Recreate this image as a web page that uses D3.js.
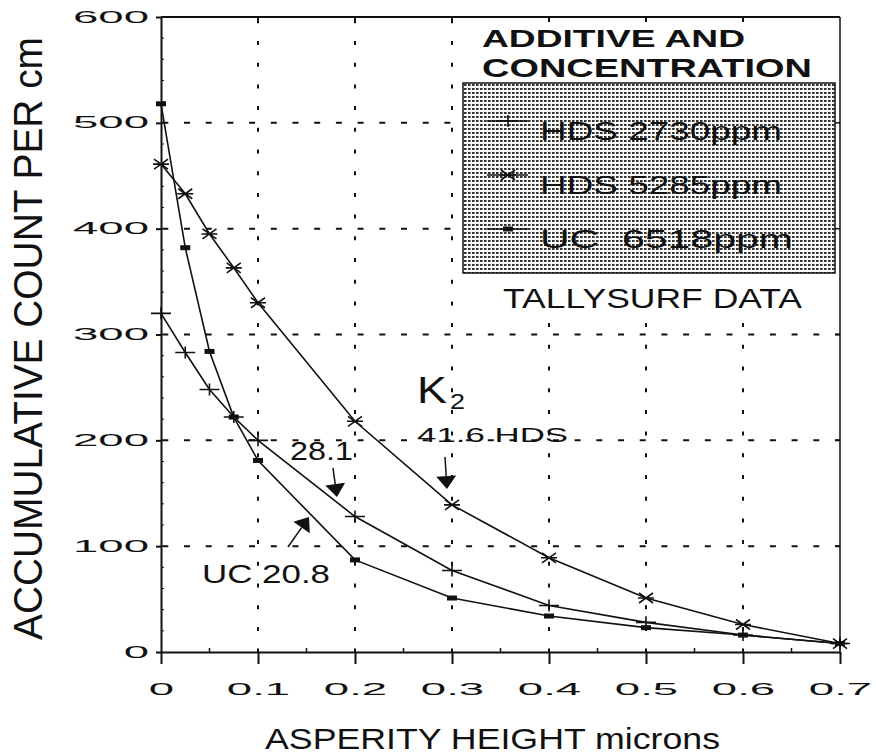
<!DOCTYPE html>
<html lang="en">
<head>
<meta charset="UTF-8">
<title>Accumulative count vs asperity height</title>
<script src="https://d3js.org/d3.v7.min.js"></script>
<style>
  body { margin: 0; background: #fff; }
  text { font-family: Arial, "Liberation Sans", sans-serif; fill: #111; }
</style>
</head>
<body>
<svg width="876" height="756"></svg>
<script>
    // data
    const heights = [0, 0.025, 0.05, 0.075, 0.1, 0.2, 0.3, 0.4, 0.5, 0.6, 0.7];
    const hds2730 = [320, 283, 248, 222, 200, 128, 77, 44, 28, 16, 8];
    const hds5285 = [461, 433, 395, 363, 330, 218, 139, 89, 51, 26, 8];
    const uc6518 = [518, 382, 284, 222, 181, 87, 51, 34, 23, 16, 8];
    const seriesNames = ["HDS 2730ppm", "HDS 5285ppm", "UC  6518ppm"];
    const seriesMarkers = ["plus", "bowtie", "square"];

    const xTicks = [0, 0.1, 0.2, 0.3, 0.4, 0.5, 0.6, 0.7];
    const xTickLabels = ["0", "0.1", "0.2", "0.3", "0.4", "0.5", "0.6", "0.7"];
    const yTicks = [0, 100, 200, 300, 400, 500, 600];
    const yTickLabels = ["0", "100", "200", "300", "400", "500", "600"];

    const svg = d3.select("svg");
    const pLeft = 161, pRight = 840, pTop = 17, pBottom = 652;

    const x = d3.scaleLinear().domain([0, 0.7]).range([pLeft, pRight]);
    const y = d3.scaleLinear().domain([0, 600]).range([pBottom, pTop]);

    // the plotter's tick digits are very wide: stretch them sideways
    const tickStretch = 2.85;

    function drawMarker(g, type, cx, cy) {
        if (type === "square") {
            g.append("rect").attr("x", cx - 5).attr("y", cy - 2.5)
                .attr("width", 10).attr("height", 5).attr("fill", "#111");
            return;
        }
        let d;
        if (type === "plus") {
            d = `M${cx - 10},${cy}H${cx + 10}M${cx},${cy - 6}V${cy + 6}`;
        } else {
            d = `M${cx - 8},${cy}H${cx + 8}M${cx - 7},${cy - 5}L${cx + 7},${cy + 5}M${cx - 7},${cy + 5}L${cx + 7},${cy - 5}`;
        }
        g.append("path").attr("d", d).attr("stroke", "#111")
            .attr("stroke-width", 1.6).attr("fill", "none");
    }

    // dotted shading for the legend box
    const defs = svg.append("defs");
    const pat = defs.append("pattern").attr("id", "dots")
        .attr("width", 4).attr("height", 4).attr("patternUnits", "userSpaceOnUse");
    pat.append("rect").attr("width", 4).attr("height", 4).attr("fill", "#fff");
    pat.append("rect").attr("width", 2.6).attr("height", 2).attr("fill", "#333");

    // grid
    svg.append("g").selectAll("line")
        .data(xTicks.slice(1, -1)).enter().append("line")
        .attr("x1", d => x(d)).attr("x2", d => x(d))
        .attr("y1", pTop).attr("y2", pBottom)
        .attr("stroke", "#111").attr("stroke-width", 2)
        .attr("stroke-dasharray", "4,17.7").attr("stroke-dashoffset", -24);
    svg.append("g").selectAll("line")
        .data(yTicks.slice(1, -1)).enter().append("line")
        .attr("x1", pLeft).attr("x2", pRight)
        .attr("y1", d => y(d)).attr("y2", d => y(d))
        .attr("stroke", "#111").attr("stroke-width", 2)
        .attr("stroke-dasharray", "6,15.7").attr("stroke-dashoffset", -23);

    // legend
    const leg = svg.append("g");
    leg.append("rect").attr("x", 456).attr("y", pTop + 1)
        .attr("width", pRight - 457).attr("height", 304).attr("fill", "#fff");
    leg.append("text").attr("x", 482).attr("y", 47)
        .attr("font-size", 24).attr("font-weight", "bold")
        .attr("textLength", 263).attr("lengthAdjust", "spacingAndGlyphs")
        .text("ADDITIVE AND");
    leg.append("text").attr("x", 482).attr("y", 77)
        .attr("font-size", 25).attr("font-weight", "bold")
        .attr("textLength", 330).attr("lengthAdjust", "spacingAndGlyphs")
        .text("CONCENTRATION");
    leg.append("rect").attr("x", 463).attr("y", 83)
        .attr("width", 372).attr("height", 190)
        .attr("fill", "url(#dots)").attr("stroke", "#111").attr("stroke-width", 1.5);
    const legY = [121, 175, 229];
    const legW = [242, 242, 253];
    seriesNames.forEach(function(name, i) {
        leg.append("line").attr("x1", 487).attr("x2", 528)
            .attr("y1", legY[i]).attr("y2", legY[i])
            .attr("stroke", "#111").attr("stroke-width", 1.5);
        drawMarker(leg, seriesMarkers[i], 508, legY[i]);
        leg.append("text").attr("x", 540).attr("y", legY[i] + 19)
            .attr("font-size", 25).style("white-space", "pre")
            .attr("textLength", legW[i]).attr("lengthAdjust", "spacingAndGlyphs")
            .text(name);
    });
    leg.append("text").attr("x", 503).attr("y", 308)
        .attr("font-size", 28)
        .attr("textLength", 299).attr("lengthAdjust", "spacingAndGlyphs")
        .text("TALLYSURF DATA");

    // series
    const series = [hds2730, hds5285, uc6518];
    const line = d3.line().x((d, i) => x(heights[i])).y(d => y(d));
    series.forEach(function(vals, s) {
        svg.append("path").datum(vals)
            .attr("d", line)
            .attr("fill", "none").attr("stroke", "#111").attr("stroke-width", 1.6);
        vals.forEach(function(v, i) {
            drawMarker(svg, seriesMarkers[s], x(heights[i]), y(v));
        });
    });

    // axes
    const xAxis = svg.append("g").attr("transform", `translate(0,${pBottom})`)
        .call(d3.axisBottom(x).tickValues(xTicks)
            .tickFormat((d, i) => xTickLabels[i])
            .tickSize(12).tickSizeOuter(0).tickPadding(20));
    const yAxis = svg.append("g").attr("transform", `translate(${pLeft},0)`)
        .call(d3.axisLeft(y).tickValues(yTicks)
            .tickFormat((d, i) => yTickLabels[i])
            .tickSize(5).tickSizeOuter(0).tickPadding(7));
    [xAxis, yAxis].forEach(function(a) {
        a.select(".domain").attr("stroke", "#111").attr("stroke-width", 2);
        a.selectAll(".tick line").attr("stroke", "#111").attr("stroke-width", 2);
        a.selectAll(".tick text")
            .attr("font-family", "Arial, 'Liberation Sans', sans-serif")
            .attr("font-size", 16).attr("fill", "#111")
            .attr("transform", `scale(${tickStretch},1)`);
    });
    yAxis.selectAll(".tick text").attr("x", -12 / tickStretch);

    // minor ticks
    svg.append("g").selectAll("line")
        .data(d3.range(0.05, 0.7, 0.1)).enter().append("line")
        .attr("x1", d => x(d)).attr("x2", d => x(d))
        .attr("y1", pBottom).attr("y2", pBottom - 4)
        .attr("stroke", "#111").attr("stroke-width", 1.5);
    svg.append("g").selectAll("line")
        .data(d3.range(20, 600, 20)).enter().append("line")
        .attr("x1", pLeft).attr("x2", pLeft + 3)
        .attr("y1", d => y(d)).attr("y2", d => y(d))
        .attr("stroke", "#111").attr("stroke-width", 1);

    // frame
    svg.append("line").attr("x1", pLeft).attr("x2", pRight)
        .attr("y1", pTop).attr("y2", pTop)
        .attr("stroke", "#111").attr("stroke-width", 2);
    svg.append("line").attr("x1", pRight).attr("x2", pRight)
        .attr("y1", pTop).attr("y2", pBottom)
        .attr("stroke", "#111").attr("stroke-width", 1.5);
    svg.append("g").selectAll("line")
        .data(xTicks.slice(1, -1)).enter().append("line")
        .attr("x1", d => x(d)).attr("x2", d => x(d))
        .attr("y1", pTop).attr("y2", pTop + 5)
        .attr("stroke", "#111").attr("stroke-width", 2);
    svg.append("g").selectAll("line")
        .data(yTicks.slice(1, -1)).enter().append("line")
        .attr("x1", pRight - 5).attr("x2", pRight)
        .attr("y1", d => y(d)).attr("y2", d => y(d))
        .attr("stroke", "#111").attr("stroke-width", 1.5);

    // axis titles
    svg.append("text")
        .attr("transform", `translate(42,${(37 + 640) / 2}) rotate(-90)`)
        .attr("text-anchor", "middle").attr("font-size", 40)
        .attr("textLength", 603).attr("lengthAdjust", "spacingAndGlyphs")
        .text("ACCUMULATIVE COUNT PER cm");
    svg.append("text")
        .attr("x", (265 + 720) / 2).attr("y", 749)
        .attr("text-anchor", "middle").attr("font-size", 29)
        .attr("textLength", 455).attr("lengthAdjust", "spacingAndGlyphs")
        .text("ASPERITY HEIGHT microns");

    // K2 annotations, placed in data units
    const notes = [
        {text: "K", hx: 0.264, hy: 235, size: 36, len: 30},
        {text: "2", hx: 0.298, hy: 229.5, size: 22, len: 15},
        {text: "41.6 HDS", hx: 0.264, hy: 198.5, size: 21, len: 151},
        {text: "28.1", hx: 0.133, hy: 181.5, size: 25, len: 63},
        {text: "UC 20.8", hx: 0.0423, hy: 65, size: 26, len: 128}
    ];
    notes.forEach(function(n) {
        svg.append("text").attr("x", x(n.hx)).attr("y", y(n.hy))
            .attr("font-size", n.size)
            .attr("textLength", n.len).attr("lengthAdjust", "spacingAndGlyphs")
            .text(n.text);
    });

    const arrows = [
        {x1: 0.2928, y1: 184.3, x2: 0.2948, y2: 154},
        {x1: 0.1773, y1: 173.9, x2: 0.1814, y2: 146.5},
        {x1: 0.1309, y1: 99.2, x2: 0.1526, y2: 127.6}
    ];
    arrows.forEach(function(a) {
        const ax = x(a.x1), ay = y(a.y1), bx = x(a.x2), by = y(a.y2);
        const ang = Math.atan2(by - ay, bx - ax);
        const hl = 13, hw = 10;
        const baseX = bx - hl * Math.cos(ang), baseY = by - hl * Math.sin(ang);
        svg.append("line").attr("x1", ax).attr("y1", ay)
            .attr("x2", baseX).attr("y2", baseY)
            .attr("stroke", "#111").attr("stroke-width", 1.5);
        const px = -Math.sin(ang) * hw, py = Math.cos(ang) * hw;
        svg.append("path")
            .attr("d", `M${bx},${by}L${baseX + px},${baseY + py}L${baseX - px},${baseY - py}Z`)
            .attr("fill", "#111");
    });
</script>
</body>
</html>
